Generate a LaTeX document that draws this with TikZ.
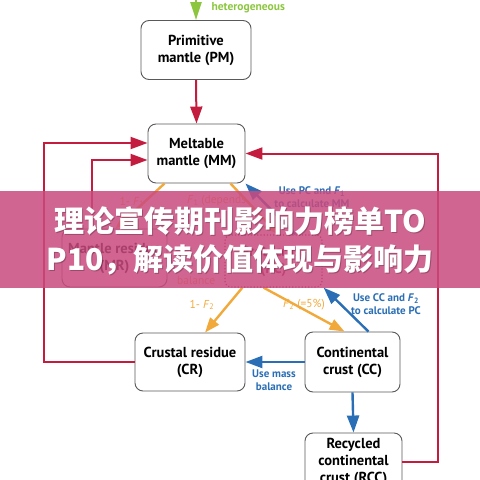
\documentclass[tikz,border=0pt]{standalone}
\usepackage{fontspec}
\setmainfont{PT Sans}
\newfontfamily\cjk{Noto Sans CJK SC}
\usetikzlibrary{arrows.meta}
\definecolor{myred}{HTML}{C41C3E}
\definecolor{myorange}{HTML}{F2A93B}
\definecolor{myblue}{HTML}{2A6EB5}
\definecolor{mygreen}{HTML}{8CC63F}
\definecolor{banner}{HTML}{C94A7E}
\definecolor{pcred}{HTML}{8A1F3A}
\tikzset{
  box/.style={draw=black!65, rounded corners=8pt, line width=0.9pt, fill=white, align=center,
    inner sep=0pt, font=\bfseries\fontsize{14.5}{17}\selectfont},
  tip/.style={-{Triangle[length=17pt,width=12pt]}},
  redarrow/.style={tip, draw=myred, line width=2pt},
  orangearrow/.style={-{Triangle[length=15pt,width=11pt]}, draw=myorange, line width=2.4pt},
  bluearrow/.style={tip, draw=myblue, line width=2.4pt},
  greenarrow/.style={-{Triangle[length=18pt,width=11pt]}, draw=mygreen, line width=2.4pt},
  olab/.style={text=myorange, font=\fontsize{11.5}{13}\selectfont, inner sep=0pt},
  blab/.style={text=myblue, font=\bfseries\fontsize{11}{13}\selectfont, inner sep=0pt, align=center},
}
\begin{document}
\begin{tikzpicture}[x=1pt,y=-1pt]
\useasboundingbox (0,0) rectangle (480,480);
% nodes
\node[box, minimum width=110pt, minimum height=59pt] (PM) at (196,50) {Primitive\\mantle (PM)};
\node[box, minimum width=97pt, minimum height=59pt] (MM) at (196.5,153.5) {Meltable\\mantle (MM)};
\node[box, minimum width=105pt, minimum height=58pt] (MR) at (114.5,258) {Mantle residue\\(MR)};
\node[draw=pcred, dotted, line width=1.2pt, rounded corners=6pt, align=center, inner sep=0pt,
  minimum width=97pt, minimum height=52pt, text=pcred, font=\bfseries\fontsize{14.5}{17}\selectfont]
  (PC) at (273.5,261) {Protocrust\\(PC)};
\node[box, minimum width=110pt, minimum height=58pt] (CR) at (190,362) {Crustal residue\\(CR)};
\node[box, minimum width=95pt, minimum height=60pt] (CC) at (352.5,362) {Continental\\crust (CC)};
\node[box, minimum width=97pt, minimum height=58pt] (RCC) at (353.5,462) {Recycled\\continental\\crust (RCC)};
\coordinate (top) at (196,-30);
\coordinate (L1) at (44,362);
\coordinate (R1) at (438,462);
% green
\draw[greenarrow] (top) -- (PM.north);
\node[text=mygreen, font=\bfseries\fontsize{11.5}{13}\selectfont, anchor=west] (het) at (208,8) {heterogeneous};
% red
\draw[redarrow] (PM.south) -- (MM.north);
\draw[redarrow] (CR.west) -- (L1) |- ([yshift=10.5pt]MM.west);
\draw[redarrow] ([xshift=30pt]MR.north west) |- ([yshift=-6.5pt]MM.west);
\draw[redarrow] (RCC.east) -- (R1) |- (MM.east);
% orange
\draw[orangearrow] ([xshift=17pt]MM.south west) -- ([xshift=54pt]MR.north west);
\draw[orangearrow] ([xshift=-15pt]MM.south east) -- ([xshift=54pt]PC.north west);
\draw[orangearrow] ([xshift=18pt]PC.south west) -- ([xshift=15pt]CR.north);
\draw[orangearrow] ([xshift=-10pt]PC.south) -- ([xshift=40pt]CC.north west);
\node[olab] (l1) at (132,202) {1- \textit{F}\textsubscript{1}};
\node[olab, anchor=west] (l2) at (187,201) {\textit{F}\textsubscript{1} (depends};
\node[olab, anchor=west] (l3) at (177,281) {balance};
\node[olab] (l4) at (202,305) {1- \textit{F}\textsubscript{2}};
\node[olab] (l5) at (304,305) {\textit{F}\textsubscript{2} (=5\%)};
% blue
\draw[bluearrow] ([xshift=22pt]PC.north) -- (MM.south east);
\draw[bluearrow] ([xshift=-32pt]CC.north east) -- ([xshift=1pt]PC.south east);
\draw[bluearrow] (CC.west) -- (CR.east);
\draw[bluearrow] (CC.south) -- (RCC.north);
\node[blab] (b1) at (312,197) {Use PC and \textit{F}\textsubscript{1}\\to calculate MM};
\node[blab] (b2) at (386,304) {Use CC and \textit{F}\textsubscript{2}\\to calculate PC};
\node[blab] (b3) at (274,380) {Use mass\\balance};
% banner overlay
\fill[banner, opacity=0.85] (0,191) rectangle (480,288);
\node[text=black, opacity=0.25, align=center, font=\cjk\bfseries\fontsize{30}{38}\selectfont] (sh) at (241,242) {理论宣传期刊影响力榜单TO\\P10，解读价值体现与影响力};
\node[text=white, align=center, font=\cjk\bfseries\fontsize{30}{38}\selectfont] (ban) at (240,241) {理论宣传期刊影响力榜单TO\\P10，解读价值体现与影响力};
\end{tikzpicture}
\end{document}
